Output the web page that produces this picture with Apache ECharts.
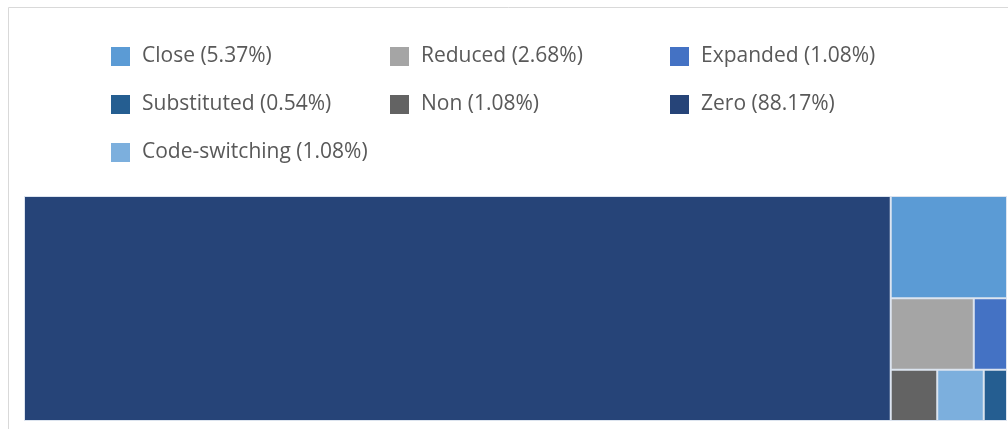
<!DOCTYPE html>
<html>
<head>
<meta charset="utf-8">
<script src="https://cdn.jsdelivr.net/npm/echarts@6/dist/echarts.min.js"></script>
<style>
html,body{margin:0;padding:0;background:#fff;}
#chart{width:1008px;height:429px;}
</style>
</head>
<body>
<div id="chart"></div>
<script>
// Data (legend order)
var categories = ['Close', 'Reduced', 'Expanded', 'Substituted', 'Non', 'Zero', 'Code-switching'];
var counts = [10, 5, 2, 1, 2, 164, 2];
var percentLabels = ['5.37%', '2.68%', '1.08%', '0.54%', '1.08%', '88.17%', '1.08%'];
var colors = ['#5B9BD5', '#A5A5A5', '#4472C4', '#255E91', '#636363', '#264478', '#7CAFDD'];

// Layout
var legendColX = [111, 390, 670];
var legendRowY = [46, 94, 142];

var items = categories.map(function (c, i) {
  return { name: c, value: counts[i], itemStyle: { color: colors[i] } };
});
// stable descending order for treemap
var treeData = items.slice().sort(function (a, b) { return b.value - a.value; });

var legends = categories.map(function (c, i) {
  return {
    data: [c],
    left: legendColX[i % 3],
    top: legendRowY[Math.floor(i / 3)],
    padding: 0,
    icon: 'rect',
    itemWidth: 19,
    itemHeight: 19,
    selectedMode: false,
    formatter: function (name) {
      return name + ' (' + percentLabels[categories.indexOf(name)] + ')';
    },
    textStyle: {
      fontFamily: 'Open Sans',
      fontSize: 21,
      color: '#595959',
      lineHeight: 19,
      padding: [0, 0, 0, 7]
    }
  };
});

var chart = echarts.init(document.getElementById('chart'));
chart.setOption({
  animation: false,
  graphic: [{
    type: 'rect',
    shape: { x: 8.5, y: 7.5, width: 1200, height: 600 },
    style: { fill: 'none', stroke: '#d9d9d9', lineWidth: 1 },
    silent: true,
    z: -10
  }],
  legend: legends,
  series: [
    {
      type: 'treemap',
      left: 24,
      top: 196,
      width: 983,
      height: 225,
      sort: false,
      roam: false,
      nodeClick: false,
      breadcrumb: { show: false },
      label: { show: false },
      upperLabel: { show: false },
      itemStyle: { borderWidth: 1, borderColor: 'rgba(220,228,240,0.9)', gapWidth: 0 },
      levels: [{ itemStyle: { borderWidth: 0, gapWidth: 0 } }, { itemStyle: { borderWidth: 1, borderColor: 'rgba(220,228,240,0.9)' } }],
      data: treeData
    },
    {
      type: 'pie',
      radius: [0, 0],
      center: [-100, -100],
      silent: true,
      label: { show: false },
      labelLine: { show: false },
      data: items
    }
  ]
});
</script>
</body>
</html>
